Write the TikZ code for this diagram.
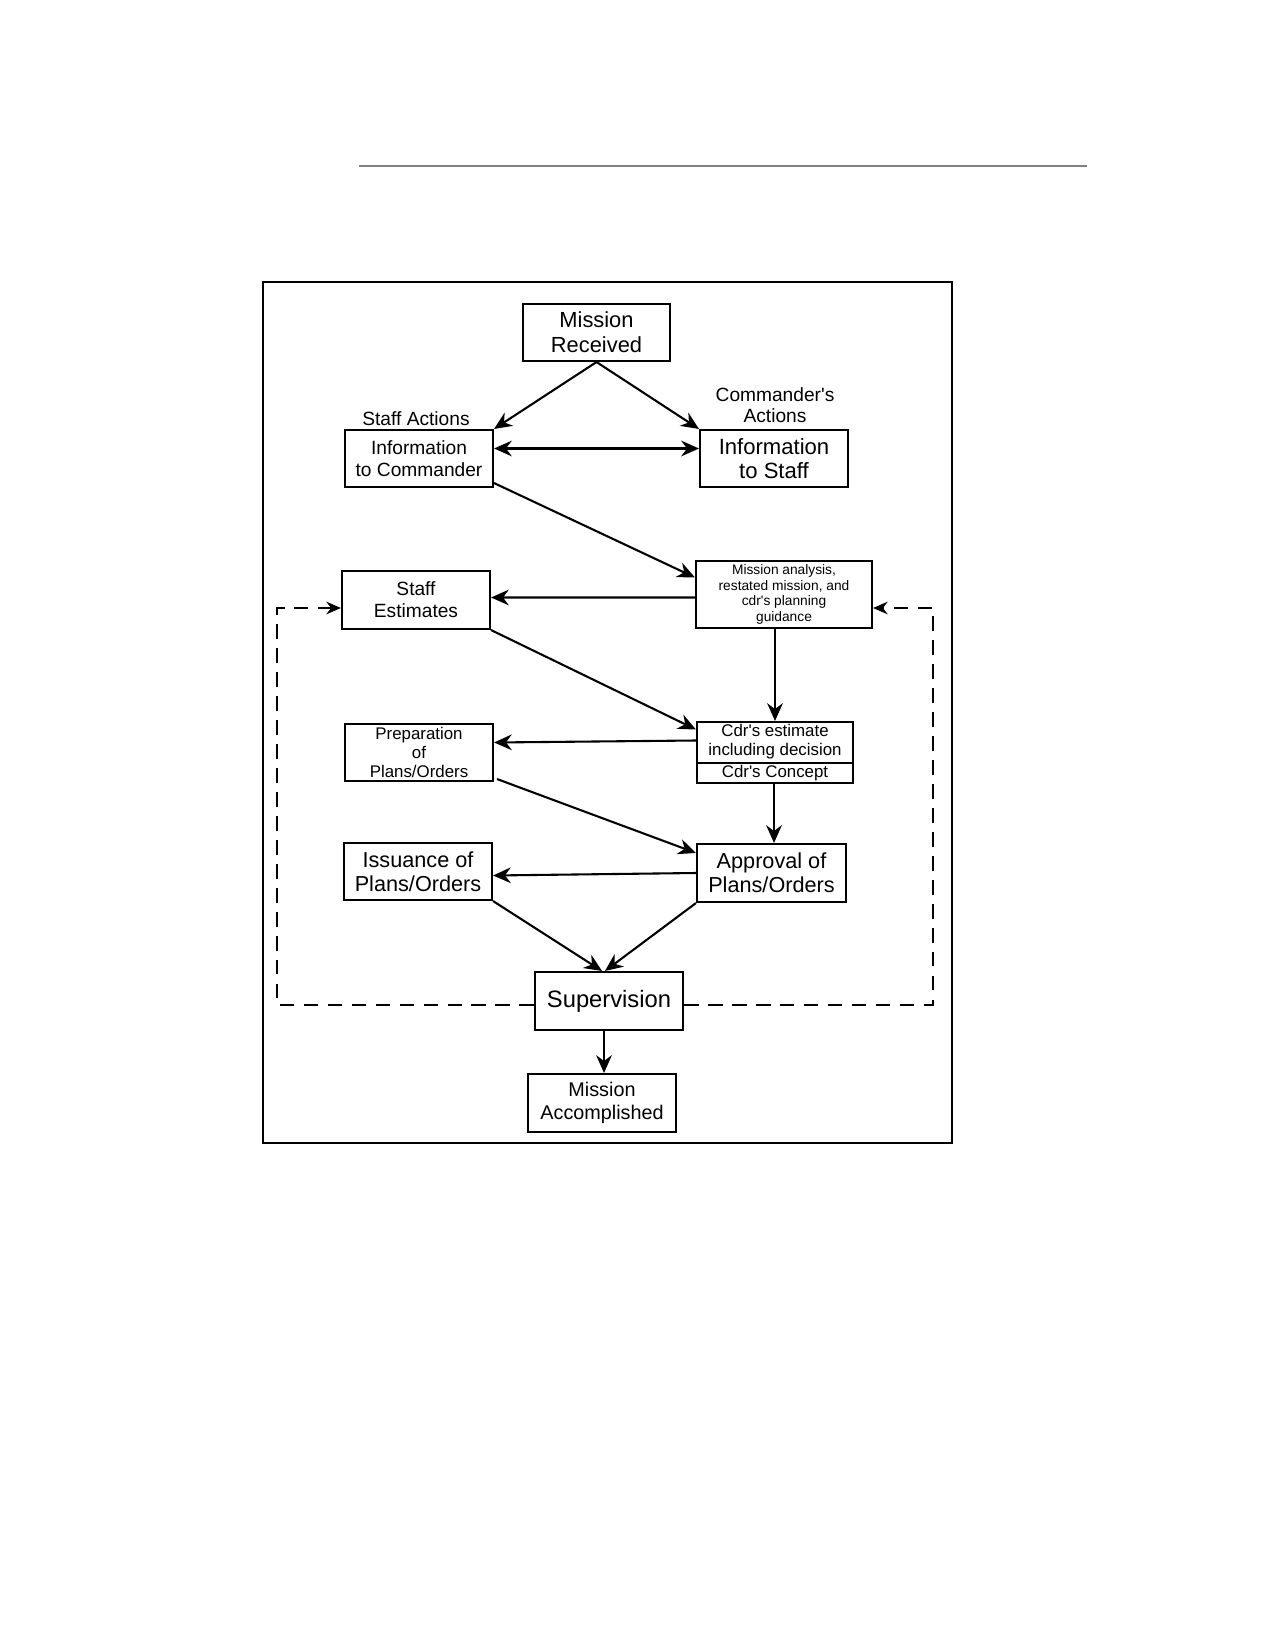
\documentclass[tikz,border=0pt]{standalone}
\usepackage{fontspec}
\setmainfont{Liberation Sans}[Ligatures=TeXOff]
\usetikzlibrary{arrows.meta,calc}
\begin{document}
\begin{tikzpicture}[x=0.48pt,y=-0.48pt,
  box/.style 2 args={draw, line width=1pt, minimum width=#1*0.48pt, minimum height=#2*0.48pt, inner sep=1pt, align=center},
  arr/.style={line width=1pt, -{Stealth[length=8.5pt,width=7.5pt]}},
  darr/.style={line width=1.1pt, dash pattern=on 7pt off 4.5pt, -{Stealth[length=7pt,width=6pt]}},
  lbl/.style={align=center, inner sep=0pt}]
\useasboundingbox (0,0) rectangle (1275,1650);
\fill[white] (0,0) rectangle (1275,1650);
\draw[gray, line width=0.6pt] (359,166) -- (1087,166);
\draw[line width=1.2pt] (263,282) rectangle (952,1143);

\node[box={147}{57}, font=\fontsize{10.5}{12}\selectfont] (mr) at (596.5,332.5) {Mission\\Received};
\node[box={148}{57}, font=\fontsize{9.2}{10.6}\selectfont] (itc) at (419,458.5) {Information\\to Commander};
\node[box={148}{57}, font=\fontsize{10.6}{11.4}\selectfont] (its) at (774,458.5) {Information\\to Staff};
\node[lbl, font=\fontsize{9.2}{10}\selectfont] (sa) at (416,419) {Staff Actions};
\node[lbl, font=\fontsize{9.2}{10}\selectfont] (ca) at (775,405) {Commander's\\Actions};
\node[box={176}{67}, font=\fontsize{6.6}{7.6}\selectfont] (ma) at (784,594.5) {Mission analysis,\\restated mission, and\\cdr's planning\\guidance};
\node[box={148}{58}, font=\fontsize{9.2}{10.6}\selectfont] (se) at (416,600) {Staff\\Estimates};
\node[box={156}{61}] (ce) at (775,752.5) {};
\node[lbl, font=\fontsize{8.1}{9}\selectfont] (cet) at (775,742) {Cdr's estimate\\including decision};
\node[lbl, font=\fontsize{8.1}{9}\selectfont] (cec) at (775,773) {Cdr's Concept};
\draw[line width=0.8pt] (ce.west |- 0,763) -- (ce.east |- 0,763);
\node[box={148}{57}, font=\fontsize{8.1}{9}\selectfont] (pp) at (419,752.5) {Preparation\\of\\Plans/Orders};
\node[box={149}{58}, font=\fontsize{10.4}{11.6}\selectfont] (ap) at (771.5,873) {Approval of\\Plans/Orders};
\node[box={148}{57}, font=\fontsize{10.4}{11.6}\selectfont] (is) at (418,871.5) {Issuance of\\Plans/Orders};
\node[box={148}{58}, font=\fontsize{11.4}{12}\selectfont] (su) at (609,1001) {Supervision};
\node[box={148}{58}, font=\fontsize{9.5}{11}\selectfont] (mac) at (602,1103) {Mission\\Accomplished};

\draw[arr] (mr.south) -- (itc.north east);
\draw[arr] (mr.south) -- (its.north west);
\draw[line width=1pt, {Stealth[length=8.5pt,width=7.5pt]}-{Stealth[length=8.5pt,width=7.5pt]}] ($(itc.east)+(0,-10)$) -- ($(its.west)+(0,-10)$);
\draw[arr] ($(itc.south east)+(0,-5)$) -- ($(ma.west)+(0,-17)$);
\draw[arr] ($(ma.west)+(0,3)$) -- ($(se.east)+(0,-2.5)$);
\draw[arr] (se.south east) -- ($(ce.west)+(0,-23)$);
\draw[arr] (ma.south -| ce.north) -- (ce.north);
\draw[arr] ($(ce.west)+(0,-12)$) -- ($(pp.east)+(0,-10)$);
\draw[arr] ($(pp.south east)+(3,-3)$) -- ($(ap.north west)+(0,10)$);
\draw[arr] ($(ce.south)+(-1,0)$) -- ($(ce.south |- ap.north)+(-1,0)$);
\draw[arr] (ap.west) -- ($(is.east)+(0,4)$);
\draw[arr] (is.south east) -- ($(su.north)+(-7,0)$);
\draw[arr] (ap.south west) -- ($(su.north)+(-4,0)$);
\draw[arr] ($(su.south)+(-5,0)$) -- ($(su.south |- mac.north)+(-5,0)$);

\coordinate (dtl) at (277,608);
\coordinate (dtr) at (933,608);
\draw[darr] ($(su.west)+(0,4)$) -| (dtl) -- (se.west |- dtl);
\draw[darr] ($(su.east)+(0,4)$) -| (dtr) -- (ma.east |- dtr);
\end{tikzpicture}
\end{document}
